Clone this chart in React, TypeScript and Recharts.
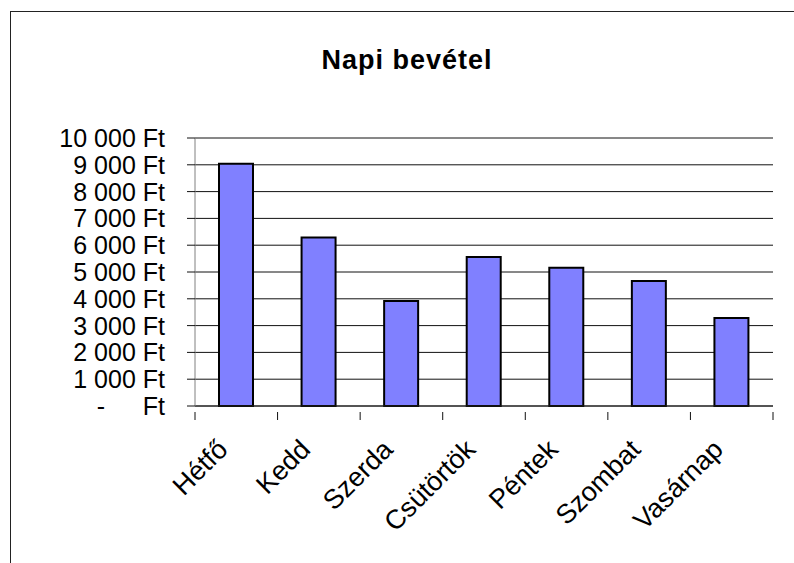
import React from 'react';
import { BarChart, Bar, XAxis, YAxis, CartesianGrid } from 'recharts';

// napok és bevételek (Ft)
const days = ['Hétfő', 'Kedd', 'Szerda', 'Csütörtök', 'Péntek', 'Szombat', 'Vasárnap'];
const revenue = [9040, 6290, 3920, 5560, 5160, 4660, 3280];
const yTicks = [0, 1000, 2000, 3000, 4000, 5000, 6000, 7000, 8000, 9000, 10000];

const data = days.map((day, i) => ({ day, value: revenue[i] }));

const FONT = 'Arial, "Liberation Sans", sans-serif';
const W = 794;
const H = 563;
const Y_AXIS_W = 195;
const RIGHT = 21;
const BAND = (W - Y_AXIS_W - RIGHT) / days.length;

const fmt = (v: number) => v.toLocaleString('en-US').replace(/,/g, ' ');

const YTick = (props: any) => {
  const { x, y, payload } = props;
  if (payload.value === 0) {
    return (
      <g>
        <text x={x - 64} y={y} dy="0.36em" textAnchor="middle" fontSize={25} fontFamily={FONT} fill="#000">-</text>
        <text x={x} y={y} dy="0.36em" textAnchor="end" fontSize={25} fontFamily={FONT} fill="#000">Ft</text>
      </g>
    );
  }
  return (
    <text x={x} y={y} dy="0.36em" textAnchor="end" fontSize={25} fontFamily={FONT} fill="#000">
      {fmt(payload.value) + ' Ft'}
    </text>
  );
};

// category label + tick marks on the category borders
const XTick = (props: any) => {
  const { x, y, payload, index } = props;
  const axisY = y - 2;
  const ax = x - 7;
  const ay = axisY + 39;
  return (
    <g>
      <line x1={x - BAND / 2} x2={x - BAND / 2} y1={axisY} y2={axisY + 8} stroke="#111" />
      {index === days.length - 1 && (
        <line x1={x + BAND / 2} x2={x + BAND / 2} y1={axisY} y2={axisY + 8} stroke="#111" />
      )}
      <text
        x={ax}
        y={ay}
        transform={`rotate(-45, ${ax}, ${ay})`}
        textAnchor="end"
        fontSize={27}
        fontFamily={FONT}
        fill="#000"
      >
        {payload.value}
      </text>
    </g>
  );
};

export default function App() {
  return (
    <div style={{ position: 'absolute', left: 0, top: 0, width: W, height: H, background: '#fff', overflow: 'hidden' }}>
      <div
        style={{
          position: 'absolute',
          left: 10,
          top: 11,
          width: 900,
          height: 700,
          borderTop: '1.5px solid #222',
          borderLeft: '1.5px solid #222',
        }}
      />
      <div
        style={{
          position: 'absolute',
          left: 0,
          width: 814,
          top: 45,
          textAlign: 'center',
          fontFamily: FONT,
          fontWeight: 'bold',
          fontSize: 27,
          letterSpacing: 1,
          color: '#000',
        }}
      >
        Napi bevétel
      </div>
      <div style={{ position: 'absolute', left: 0, top: 0 }}>
        <BarChart width={W} height={H} data={data} margin={{ top: 138, right: RIGHT, bottom: 0, left: 0 }}>
          <CartesianGrid vertical={false} stroke="#111" />
          <XAxis
            dataKey="day"
            height={157}
            interval={0}
            tickLine={false}
            tickMargin={2}
            axisLine={{ stroke: '#222' }}
            tick={<XTick />}
          />
          <YAxis
            width={Y_AXIS_W}
            domain={[0, 10000]}
            ticks={yTicks}
            interval={0}
            tickSize={8}
            tickMargin={22}
            tickLine={{ stroke: '#111' }}
            axisLine={{ stroke: '#808080' }}
            tick={<YTick />}
          />
          <Bar dataKey="value" fill="#8080FF" stroke="#000" strokeWidth={2} barSize={34} isAnimationActive={false} />
        </BarChart>
      </div>
    </div>
  );
}
